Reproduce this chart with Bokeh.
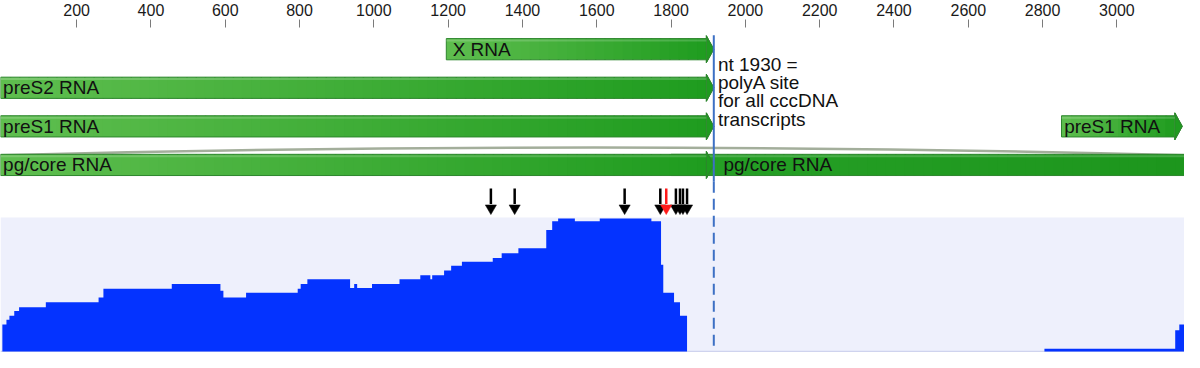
import numpy as np
from bokeh.plotting import figure
from bokeh.models import Range1d, FixedTicker
from bokeh.core.properties import value
from bokeh.embed import file_html
from bokeh.resources import INLINE

# ---------------- data ----------------
GENOME_END = 3182
POLYA_SITE = 1915          # position of the dashed line
TICKS = list(range(200, 3001, 200))

rna_names = ["X RNA", "preS2 RNA", "preS1 RNA", "preS1 RNA", "pg/core RNA", "pg/core RNA"]
rna_start = [1195, -5, -5, 2851, -5, 1800]
rna_end = [1915, 1915, 1915, 3176, 1915, 3182]
rna_row = [0, 1, 2, 2, 3, 3]
rna_arrow = [True, True, True, True, True, False]
rna_label_x = [1212, 2, 2, 2858, 2, 1941]

cov_pos = [0, 11, 19, 32, 45, 117, 259, 272, 456, 587, 595, 656, 795, 803, 821,
           936, 947, 955, 995, 1069, 1125, 1152, 1157, 1189, 1208, 1237, 1320,
           1344, 1389, 1464, 1480, 1496, 1541, 1608, 1747, 1773, 1779, 1808,
           1824, 1843, 2805, 3157, 3168]
cov_val = [28, 33, 37, 42, 46, 51, 56, 65, 70, 63, 56, 61, 65, 70, 75,
           66, 70, 66, 70, 75, 79, 75, 79, 84, 89, 93, 97,
           102, 107, 126, 135, 138, 135, 138, 135, 90, 61, 51,
           37, 0, 3, 22, 28]
cov_max = 139

mut_black = [1315, 1379, 1675, 1771, 1813, 1824, 1832, 1843]
mut_red = [1787]

note_lines = ["nt 1930 =", "polyA site", "for all cccDNA", "transcripts"]

# ---------------- layout / style ----------------
ROW_Y = [313.5, 273.5, 233.5, 193.5]
BH = 11.0      # bar half height
HH = 14.0      # arrow head half height
HEAD_LEN = 20  # arrow head length (x units)
FONT = "Liberation Sans"
LABEL_SIZE = "19px"
C_LIGHT = "#5fbe4f"
C_DARK = "#1f9c1f"
C_BORDER = "#2d862d"
bar_colors = [(C_LIGHT, C_DARK)] * 5 + [("#26a026", "#1d961d")]

MUT_TAIL, MUT_BASE, MUT_TIP = 169, 152, 142
MUT_HALF_W = 15
NOTE_X = 1926
NOTE_Y = [298, 279, 260, 241]


def hex2rgb(h):
    return np.array([int(h[i:i + 2], 16) for i in (1, 3, 5)], dtype=float)


def mix(c0, c1, t):
    r = hex2rgb(c0) * (1 - t) + hex2rgb(c1) * t
    return "#%02x%02x%02x" % tuple(int(round(v)) for v in r)


p = figure(width=1184, height=352, output_backend="svg", toolbar_location=None,
           x_range=Range1d(-5, GENOME_END), y_range=Range1d(-1, 336),
           x_axis_location="above", y_axis_location=None,
           min_border=0, min_border_top=0, outline_line_color=None,
           background_fill_color="white", border_fill_color="white")
p.grid.visible = False

ax = p.xaxis[0]
ax.ticker = FixedTicker(ticks=TICKS)
ax.axis_line_color = None
ax.major_tick_line_color = "#7a7a7a"
ax.major_tick_line_width = 1
ax.major_tick_out = 8
ax.major_tick_in = 0
ax.minor_tick_line_color = None
ax.major_label_text_font = FONT
ax.major_label_text_font_size = "16px"
ax.major_label_text_color = "#1a1a1a"
ax.major_label_standoff = 4

# ---- coverage background & step area ----
p.quad(left=[-5], right=[GENOME_END], bottom=[0], top=[cov_max],
       fill_color="#eef0fc", line_color=None)
p.segment(x0=[-5], y0=[0], x1=[GENOME_END], y1=[0], line_color="#cfd3ee", line_width=1.5)

edges = list(cov_pos) + [GENOME_END]
sx, sy = [], []
for i, v in enumerate(cov_val):
    sx += [edges[i], edges[i + 1]]
    sy += [v, v]
p.varea(x=sx, y1=[0] * len(sx), y2=sy, fill_color="#0433ff")

# ---- splice arc above pg/core ----
top_pg = ROW_Y[3] + BH
p.quadratic(x0=[-5], y0=[top_pg - 1], x1=[GENOME_END], y1=[top_pg - 1],
            cx=[1600], cy=[top_pg + 15], line_color="#a3ae9b", line_width=2.5)

# ---- transcript bars ----
order = [5, 4, 0, 1, 2, 3]
for i in order:
    s, e = rna_start[i], rna_end[i]
    yc = ROW_Y[rna_row[i]]
    c0, c1 = bar_colors[i]
    body_end = e - HEAD_LEN if rna_arrow[i] else e
    n = max(4, int((body_end - s) / 25))
    ed = np.linspace(s, body_end, n + 1)
    sl_l, sl_r, sl_b, sl_t, sl_c = [], [], [], [], []
    for k in range(n):
        sl_l.append(ed[k]); sl_r.append(min(ed[k + 1] + 4, body_end))
        sl_b.append(yc - BH); sl_t.append(yc + BH)
        sl_c.append(mix(c0, c1, (k + 0.5) / n))
    p.quad(left=sl_l, right=sl_r, bottom=sl_b, top=sl_t, fill_color=sl_c,
           line_color=None)
    if rna_arrow[i]:
        p.patch(x=[body_end, e, body_end], y=[yc + HH, yc, yc - HH],
                fill_color=c1, line_color=C_BORDER, line_width=1)
        ox = [s, body_end, body_end, e, body_end, body_end, s, s]
        oy = [yc + BH, yc + BH, yc + HH, yc, yc - HH, yc - BH, yc - BH, yc + BH]
    else:
        ox = [s, e, e, s, s]
        oy = [yc + BH, yc + BH, yc - BH, yc - BH, yc + BH]
    p.line(x=ox, y=oy, line_color=C_BORDER, line_width=1)
    p.segment(x0=[s], y0=[yc + BH - 2], x1=[body_end], y1=[yc + BH - 2],
              line_color="#ffffff", line_alpha=0.18, line_width=2)

p.text(x=rna_label_x, y=[ROW_Y[r] for r in rna_row], text=rna_names,
       text_font=value(FONT), text_font_size=value(LABEL_SIZE),
       text_baseline="middle", text_align="left", text_color="#111111")

# ---- polyA line ----
p.segment(x0=[POLYA_SITE], y0=[328], x1=[POLYA_SITE], y1=[176],
          line_color="#3d70c4", line_width=2)
p.segment(x0=[POLYA_SITE], y0=[176], x1=[POLYA_SITE], y1=[0],
          line_color="#3d70c4", line_width=2, line_dash="11 6")

p.text(x=[NOTE_X] * len(note_lines), y=NOTE_Y, text=note_lines,
       text_font=value(FONT), text_font_size=value(LABEL_SIZE),
       text_baseline="middle", text_align="left", text_color="#111111")

# ---- mutation arrows ----
def draw_arrows(xs, color):
    p.segment(x0=xs, y0=[MUT_TAIL] * len(xs), x1=xs, y1=[MUT_BASE + 1] * len(xs),
              line_color=color, line_width=2.5)
    p.patches(xs=[[x - MUT_HALF_W, x + MUT_HALF_W, x] for x in xs],
              ys=[[MUT_BASE, MUT_BASE, MUT_TIP] for _ in xs],
              fill_color=color, line_color=color, line_width=0.5)


draw_arrows(mut_black, "#000000")
draw_arrows(mut_red, "#ff1a1a")

open("out.html", "w").write(file_html(p, INLINE, title="HBV transcripts"))
